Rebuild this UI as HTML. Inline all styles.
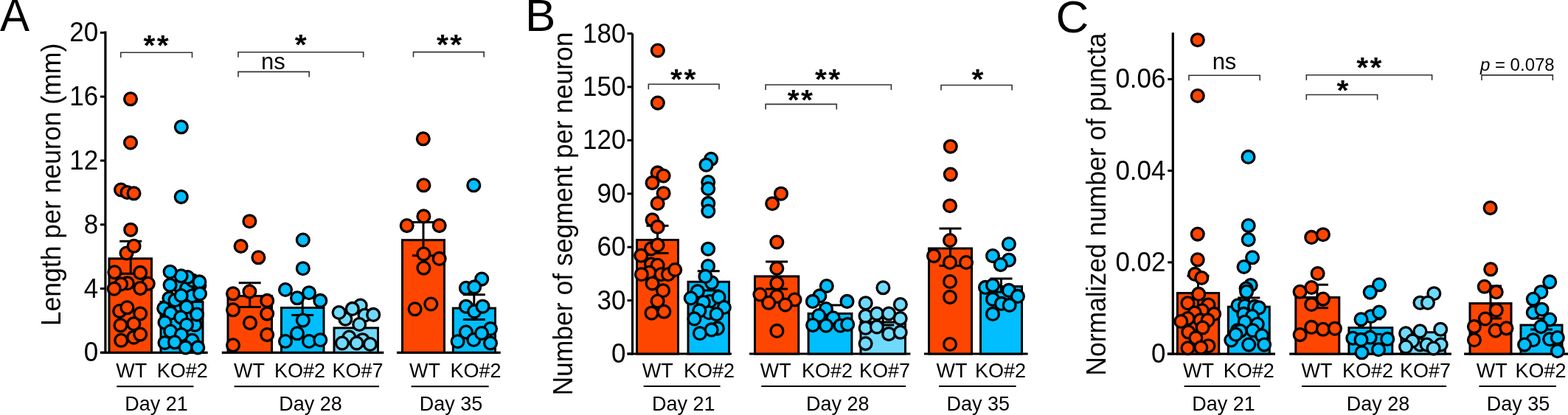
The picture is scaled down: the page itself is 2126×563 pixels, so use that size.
<!DOCTYPE html>
<html><head><meta charset="utf-8"><title>Figure</title><style>html,body{margin:0;padding:0;background:#fff;overflow:hidden}svg{display:block}</style></head><body>
<svg width="2126" height="563" viewBox="0 0 2126 563" font-family='"Liberation Sans", Arial, Helvetica, sans-serif' fill="#000">
<rect width="2126" height="563" fill="#fff"/>
<text transform="translate(0.0 41.7) scale(1 1.04)" font-size="60" text-anchor="start">A</text>
<text transform="translate(712.1 41.9) scale(1 1)" font-size="62" text-anchor="start">B</text>
<text transform="translate(1431.6 43.6) scale(1 1)" font-size="62" text-anchor="start">C</text>
<path d="M142.9 42.4V479.8" stroke="#000" stroke-width="3.2"/>
<path d="M135.9 478.3H142.9" stroke="#000" stroke-width="3"/>
<text transform="translate(133.2 490.3) scale(1 1.045)" font-size="35" text-anchor="end">0</text>
<path d="M135.9 391.5H142.9" stroke="#000" stroke-width="3"/>
<text transform="translate(133.2 403.5) scale(1 1.045)" font-size="35" text-anchor="end">4</text>
<path d="M135.9 304.7H142.9" stroke="#000" stroke-width="3"/>
<text transform="translate(133.2 316.7) scale(1 1.045)" font-size="35" text-anchor="end">8</text>
<path d="M135.9 217.9H142.9" stroke="#000" stroke-width="3"/>
<text transform="translate(133.2 229.9) scale(1 1.045)" font-size="35" text-anchor="end">12</text>
<path d="M135.9 131.1H142.9" stroke="#000" stroke-width="3"/>
<text transform="translate(133.2 143.1) scale(1 1.045)" font-size="35" text-anchor="end">16</text>
<path d="M135.9 44.3H142.9" stroke="#000" stroke-width="3"/>
<text transform="translate(133.2 56.3) scale(1 1.045)" font-size="35" text-anchor="end">20</text>
<text transform="translate(82.3 250.5) rotate(-90) scale(1 1.045)" font-size="35.6" text-anchor="middle">Length per neuron (mm)</text>
<path d="M136.4 478.3H281.7" stroke="#000" stroke-width="3.2"/>
<path d="M300.8 478.3H520.3" stroke="#000" stroke-width="3.2"/>
<path d="M538.0 478.3H678.7" stroke="#000" stroke-width="3.2"/>
<rect x="148.0" y="350.8" width="57.5" height="127.5" fill="#FF4600" stroke="#000" stroke-width="3.0"/>
<rect x="218.0" y="409.5" width="57.0" height="68.8" fill="#00BEFF" stroke="#000" stroke-width="3.0"/>
<rect x="309.0" y="401.6" width="59.5" height="76.7" fill="#FF4600" stroke="#000" stroke-width="3.0"/>
<rect x="381.5" y="417.5" width="57.5" height="60.8" fill="#00BEFF" stroke="#000" stroke-width="3.0"/>
<rect x="453.0" y="444.9" width="59.5" height="33.4" fill="#70DAFC" stroke="#000" stroke-width="3.0"/>
<rect x="545.5" y="325.7" width="57.0" height="152.6" fill="#FF4600" stroke="#000" stroke-width="3.0"/>
<rect x="614.3" y="418.1" width="57.2" height="60.2" fill="#00BEFF" stroke="#000" stroke-width="3.0"/>
<path d="M177.2 327.2V371.2M162.2 327.2H192.2M162.2 371.2H192.2" stroke="#000" stroke-width="3" fill="none"/>
<path d="M246.5 393.0V423.0M231.5 393.0H261.5M231.5 423.0H261.5" stroke="#000" stroke-width="3" fill="none"/>
<path d="M338.7 383.7V416.5M323.7 383.7H353.7M323.7 416.5H353.7" stroke="#000" stroke-width="3" fill="none"/>
<path d="M410.2 404.5V427.5M395.2 404.5H425.2M395.2 427.5H425.2" stroke="#000" stroke-width="3" fill="none"/>
<path d="M574.0 301.6V346.8M559.0 301.6H589.0M559.0 346.8H589.0" stroke="#000" stroke-width="3" fill="none"/>
<path d="M642.8 399.8V433.4M627.8 399.8H657.8M627.8 433.4H657.8" stroke="#000" stroke-width="3" fill="none"/>
<circle cx="177.0" cy="134.3" r="8.4" fill="#FF4600" stroke="#000" stroke-width="3.3"/>
<circle cx="177.0" cy="193.5" r="8.4" fill="#FF4600" stroke="#000" stroke-width="3.3"/>
<circle cx="164.0" cy="257.5" r="8.4" fill="#FF4600" stroke="#000" stroke-width="3.3"/>
<circle cx="172.5" cy="261.0" r="8.4" fill="#FF4600" stroke="#000" stroke-width="3.3"/>
<circle cx="181.5" cy="262.3" r="8.4" fill="#FF4600" stroke="#000" stroke-width="3.3"/>
<circle cx="177.2" cy="311.7" r="8.4" fill="#FF4600" stroke="#000" stroke-width="3.3"/>
<circle cx="171.5" cy="343.5" r="8.4" fill="#FF4600" stroke="#000" stroke-width="3.3"/>
<circle cx="181.6" cy="333.8" r="8.4" fill="#FF4600" stroke="#000" stroke-width="3.3"/>
<circle cx="172.8" cy="384.2" r="8.4" fill="#FF4600" stroke="#000" stroke-width="3.3"/>
<circle cx="164.1" cy="385.5" r="8.4" fill="#FF4600" stroke="#000" stroke-width="3.3"/>
<circle cx="155.4" cy="369.3" r="8.4" fill="#FF4600" stroke="#000" stroke-width="3.3"/>
<circle cx="190.2" cy="369.9" r="8.4" fill="#FF4600" stroke="#000" stroke-width="3.3"/>
<circle cx="154.8" cy="391.7" r="8.4" fill="#FF4600" stroke="#000" stroke-width="3.3"/>
<circle cx="200.8" cy="384.8" r="8.4" fill="#FF4600" stroke="#000" stroke-width="3.3"/>
<circle cx="190.2" cy="391.1" r="8.4" fill="#FF4600" stroke="#000" stroke-width="3.3"/>
<circle cx="162.2" cy="422.1" r="8.4" fill="#FF4600" stroke="#000" stroke-width="3.3"/>
<circle cx="172.4" cy="417.3" r="8.4" fill="#FF4600" stroke="#000" stroke-width="3.3"/>
<circle cx="190.2" cy="425.5" r="8.4" fill="#FF4600" stroke="#000" stroke-width="3.3"/>
<circle cx="163.5" cy="441.3" r="8.4" fill="#FF4600" stroke="#000" stroke-width="3.3"/>
<circle cx="181.3" cy="439.2" r="8.4" fill="#FF4600" stroke="#000" stroke-width="3.3"/>
<circle cx="181.3" cy="457.7" r="8.4" fill="#FF4600" stroke="#000" stroke-width="3.3"/>
<circle cx="190.2" cy="453.6" r="8.4" fill="#FF4600" stroke="#000" stroke-width="3.3"/>
<circle cx="164.2" cy="461.8" r="8.4" fill="#FF4600" stroke="#000" stroke-width="3.3"/>
<circle cx="245.8" cy="172.3" r="8.4" fill="#00BEFF" stroke="#000" stroke-width="3.3"/>
<circle cx="245.7" cy="267.1" r="8.4" fill="#00BEFF" stroke="#000" stroke-width="3.3"/>
<circle cx="242.5" cy="388.0" r="8.4" fill="#00BEFF" stroke="#000" stroke-width="3.3"/>
<circle cx="253.0" cy="391.0" r="8.4" fill="#00BEFF" stroke="#000" stroke-width="3.3"/>
<circle cx="270.4" cy="387.3" r="8.4" fill="#00BEFF" stroke="#000" stroke-width="3.3"/>
<circle cx="264.4" cy="440.7" r="8.4" fill="#00BEFF" stroke="#000" stroke-width="3.3"/>
<circle cx="261.1" cy="380.5" r="8.4" fill="#00BEFF" stroke="#000" stroke-width="3.3"/>
<circle cx="270.4" cy="382.4" r="8.4" fill="#00BEFF" stroke="#000" stroke-width="3.3"/>
<circle cx="254.3" cy="376.1" r="8.4" fill="#00BEFF" stroke="#000" stroke-width="3.3"/>
<circle cx="245.6" cy="374.3" r="8.4" fill="#00BEFF" stroke="#000" stroke-width="3.3"/>
<circle cx="230.6" cy="368.7" r="8.4" fill="#00BEFF" stroke="#000" stroke-width="3.3"/>
<circle cx="230.6" cy="386.7" r="8.4" fill="#00BEFF" stroke="#000" stroke-width="3.3"/>
<circle cx="229.4" cy="404.7" r="8.4" fill="#00BEFF" stroke="#000" stroke-width="3.3"/>
<circle cx="237.5" cy="407.2" r="8.4" fill="#00BEFF" stroke="#000" stroke-width="3.3"/>
<circle cx="260.5" cy="401.6" r="8.4" fill="#00BEFF" stroke="#000" stroke-width="3.3"/>
<circle cx="271.0" cy="398.5" r="8.4" fill="#00BEFF" stroke="#000" stroke-width="3.3"/>
<circle cx="245.6" cy="401.0" r="8.4" fill="#00BEFF" stroke="#000" stroke-width="3.3"/>
<circle cx="222.2" cy="418.3" r="8.4" fill="#00BEFF" stroke="#000" stroke-width="3.3"/>
<circle cx="252.9" cy="416.4" r="8.4" fill="#00BEFF" stroke="#000" stroke-width="3.3"/>
<circle cx="267.0" cy="426.6" r="8.4" fill="#00BEFF" stroke="#000" stroke-width="3.3"/>
<circle cx="231.2" cy="424.7" r="8.4" fill="#00BEFF" stroke="#000" stroke-width="3.3"/>
<circle cx="245.2" cy="430.5" r="8.4" fill="#00BEFF" stroke="#000" stroke-width="3.3"/>
<circle cx="223.5" cy="437.5" r="8.4" fill="#00BEFF" stroke="#000" stroke-width="3.3"/>
<circle cx="252.9" cy="440.7" r="8.4" fill="#00BEFF" stroke="#000" stroke-width="3.3"/>
<circle cx="231.2" cy="449.6" r="8.4" fill="#00BEFF" stroke="#000" stroke-width="3.3"/>
<circle cx="245.9" cy="454.1" r="8.4" fill="#00BEFF" stroke="#000" stroke-width="3.3"/>
<circle cx="223.5" cy="465.0" r="8.4" fill="#00BEFF" stroke="#000" stroke-width="3.3"/>
<circle cx="236.9" cy="464.3" r="8.4" fill="#00BEFF" stroke="#000" stroke-width="3.3"/>
<circle cx="260.6" cy="461.8" r="8.4" fill="#00BEFF" stroke="#000" stroke-width="3.3"/>
<circle cx="251.6" cy="471.4" r="8.4" fill="#00BEFF" stroke="#000" stroke-width="3.3"/>
<circle cx="268.3" cy="471.4" r="8.4" fill="#00BEFF" stroke="#000" stroke-width="3.3"/>
<circle cx="338.4" cy="300.2" r="8.4" fill="#FF4600" stroke="#000" stroke-width="3.3"/>
<circle cx="326.6" cy="334.0" r="8.4" fill="#FF4600" stroke="#000" stroke-width="3.3"/>
<circle cx="350.4" cy="349.3" r="8.4" fill="#FF4600" stroke="#000" stroke-width="3.3"/>
<circle cx="316.0" cy="398.3" r="8.4" fill="#FF4600" stroke="#000" stroke-width="3.3"/>
<circle cx="338.4" cy="395.5" r="8.4" fill="#FF4600" stroke="#000" stroke-width="3.3"/>
<circle cx="362.2" cy="407.9" r="8.4" fill="#FF4600" stroke="#000" stroke-width="3.3"/>
<circle cx="316.0" cy="420.3" r="8.4" fill="#FF4600" stroke="#000" stroke-width="3.3"/>
<circle cx="362.2" cy="425.6" r="8.4" fill="#FF4600" stroke="#000" stroke-width="3.3"/>
<circle cx="339.0" cy="438.1" r="8.4" fill="#FF4600" stroke="#000" stroke-width="3.3"/>
<circle cx="362.2" cy="454.1" r="8.4" fill="#FF4600" stroke="#000" stroke-width="3.3"/>
<circle cx="316.0" cy="468.3" r="8.4" fill="#FF4600" stroke="#000" stroke-width="3.3"/>
<circle cx="410.8" cy="325.5" r="8.4" fill="#00BEFF" stroke="#000" stroke-width="3.3"/>
<circle cx="410.8" cy="364.2" r="8.4" fill="#00BEFF" stroke="#000" stroke-width="3.3"/>
<circle cx="387.0" cy="393.0" r="8.4" fill="#00BEFF" stroke="#000" stroke-width="3.3"/>
<circle cx="403.0" cy="404.3" r="8.4" fill="#00BEFF" stroke="#000" stroke-width="3.3"/>
<circle cx="419.0" cy="397.2" r="8.4" fill="#00BEFF" stroke="#000" stroke-width="3.3"/>
<circle cx="434.3" cy="407.9" r="8.4" fill="#00BEFF" stroke="#000" stroke-width="3.3"/>
<circle cx="410.8" cy="434.5" r="8.4" fill="#00BEFF" stroke="#000" stroke-width="3.3"/>
<circle cx="403.0" cy="452.3" r="8.4" fill="#00BEFF" stroke="#000" stroke-width="3.3"/>
<circle cx="387.0" cy="463.0" r="8.4" fill="#00BEFF" stroke="#000" stroke-width="3.3"/>
<circle cx="419.0" cy="463.0" r="8.4" fill="#00BEFF" stroke="#000" stroke-width="3.3"/>
<circle cx="434.3" cy="461.2" r="8.4" fill="#00BEFF" stroke="#000" stroke-width="3.3"/>
<circle cx="468.3" cy="432.8" r="8.4" fill="#70DAFC" stroke="#000" stroke-width="3.3"/>
<circle cx="488.7" cy="414.6" r="8.4" fill="#70DAFC" stroke="#000" stroke-width="3.3"/>
<circle cx="494.5" cy="427.7" r="8.4" fill="#70DAFC" stroke="#000" stroke-width="3.3"/>
<circle cx="459.6" cy="424.0" r="8.4" fill="#70DAFC" stroke="#000" stroke-width="3.3"/>
<circle cx="477.8" cy="418.9" r="8.4" fill="#70DAFC" stroke="#000" stroke-width="3.3"/>
<circle cx="506.2" cy="426.9" r="8.4" fill="#70DAFC" stroke="#000" stroke-width="3.3"/>
<circle cx="487.2" cy="440.0" r="8.4" fill="#70DAFC" stroke="#000" stroke-width="3.3"/>
<circle cx="491.6" cy="461.2" r="8.4" fill="#70DAFC" stroke="#000" stroke-width="3.3"/>
<circle cx="473.4" cy="457.5" r="8.4" fill="#70DAFC" stroke="#000" stroke-width="3.3"/>
<circle cx="463.9" cy="465.5" r="8.4" fill="#70DAFC" stroke="#000" stroke-width="3.3"/>
<circle cx="483.6" cy="465.5" r="8.4" fill="#70DAFC" stroke="#000" stroke-width="3.3"/>
<circle cx="501.8" cy="467.0" r="8.4" fill="#70DAFC" stroke="#000" stroke-width="3.3"/>
<circle cx="573.8" cy="188.3" r="8.4" fill="#FF4600" stroke="#000" stroke-width="3.3"/>
<circle cx="574.4" cy="251.3" r="8.4" fill="#FF4600" stroke="#000" stroke-width="3.3"/>
<circle cx="574.4" cy="293.4" r="8.4" fill="#FF4600" stroke="#000" stroke-width="3.3"/>
<circle cx="551.7" cy="306.1" r="8.4" fill="#FF4600" stroke="#000" stroke-width="3.3"/>
<circle cx="595.7" cy="306.1" r="8.4" fill="#FF4600" stroke="#000" stroke-width="3.3"/>
<circle cx="574.4" cy="344.6" r="8.4" fill="#FF4600" stroke="#000" stroke-width="3.3"/>
<circle cx="595.7" cy="350.9" r="8.4" fill="#FF4600" stroke="#000" stroke-width="3.3"/>
<circle cx="574.4" cy="363.6" r="8.4" fill="#FF4600" stroke="#000" stroke-width="3.3"/>
<circle cx="562.6" cy="419.3" r="8.4" fill="#FF4600" stroke="#000" stroke-width="3.3"/>
<circle cx="584.3" cy="412.5" r="8.4" fill="#FF4600" stroke="#000" stroke-width="3.3"/>
<circle cx="642.3" cy="251.3" r="8.4" fill="#00BEFF" stroke="#000" stroke-width="3.3"/>
<circle cx="653.2" cy="378.6" r="8.4" fill="#00BEFF" stroke="#000" stroke-width="3.3"/>
<circle cx="631.9" cy="390.8" r="8.4" fill="#00BEFF" stroke="#000" stroke-width="3.3"/>
<circle cx="643.2" cy="389.4" r="8.4" fill="#00BEFF" stroke="#000" stroke-width="3.3"/>
<circle cx="631.9" cy="415.7" r="8.4" fill="#00BEFF" stroke="#000" stroke-width="3.3"/>
<circle cx="643.2" cy="422.5" r="8.4" fill="#00BEFF" stroke="#000" stroke-width="3.3"/>
<circle cx="654.5" cy="415.7" r="8.4" fill="#00BEFF" stroke="#000" stroke-width="3.3"/>
<circle cx="631.9" cy="450.6" r="8.4" fill="#00BEFF" stroke="#000" stroke-width="3.3"/>
<circle cx="665.0" cy="446.0" r="8.4" fill="#00BEFF" stroke="#000" stroke-width="3.3"/>
<circle cx="620.6" cy="463.2" r="8.4" fill="#00BEFF" stroke="#000" stroke-width="3.3"/>
<circle cx="642.3" cy="461.0" r="8.4" fill="#00BEFF" stroke="#000" stroke-width="3.3"/>
<circle cx="665.0" cy="465.5" r="8.4" fill="#00BEFF" stroke="#000" stroke-width="3.3"/>
<circle cx="653.0" cy="452.0" r="8.4" fill="#00BEFF" stroke="#000" stroke-width="3.3"/>
<path d="M163.7 78.2V71.2H260.5V78.2" stroke="#333" stroke-width="1.6" fill="none"/>
<text transform="translate(212.8 74.6) scale(1 0.96)" font-size="41" letter-spacing="2.35" text-anchor="middle" font-weight="bold">**</text>
<path d="M323.0 77.8V70.8H492.7V77.8" stroke="#333" stroke-width="1.6" fill="none"/>
<text transform="translate(408.9 74.4) scale(1 0.96)" font-size="41" letter-spacing="2.35" text-anchor="middle" font-weight="bold">*</text>
<path d="M323.0 104.4V97.4H419.2V104.4" stroke="#333" stroke-width="1.6" fill="none"/>
<text transform="translate(370.3 93.5) scale(1 1)" font-size="31" text-anchor="middle">ns</text>
<path d="M560.5 77.6V70.6H656.2V77.6" stroke="#333" stroke-width="1.6" fill="none"/>
<text transform="translate(610.3 74.4) scale(1 0.96)" font-size="41" letter-spacing="2.35" text-anchor="middle" font-weight="bold">**</text>
<text transform="translate(178.2 511.9) scale(1 1.045)" font-size="27" text-anchor="middle">WT</text>
<text transform="translate(247.2 511.9) scale(1 1.045)" font-size="27" text-anchor="middle">KO#2</text>
<text transform="translate(337.9 511.9) scale(1 1.045)" font-size="27" text-anchor="middle">WT</text>
<text transform="translate(406.5 511.9) scale(1 1.045)" font-size="27" text-anchor="middle">KO#2</text>
<text transform="translate(485.1 511.9) scale(1 1.045)" font-size="27" text-anchor="middle">KO#7</text>
<text transform="translate(576.0 511.9) scale(1 1.045)" font-size="27" text-anchor="middle">WT</text>
<text transform="translate(644.9 511.9) scale(1 1.045)" font-size="27" text-anchor="middle">KO#2</text>
<path d="M158.3 524.3H262.5" stroke="#000" stroke-width="2"/>
<path d="M317.6 524.3H514.0" stroke="#000" stroke-width="2"/>
<path d="M557.6 524.3H662.7" stroke="#000" stroke-width="2"/>
<text transform="translate(212.0 557.2) scale(1 1.045)" font-size="27" text-anchor="middle">Day 21</text>
<text transform="translate(420.9 557.2) scale(1 1.045)" font-size="27" text-anchor="middle">Day 28</text>
<text transform="translate(611.6 557.2) scale(1 1.045)" font-size="27" text-anchor="middle">Day 35</text>
<path d="M857.5 45.5V481.5" stroke="#000" stroke-width="3.2"/>
<path d="M850.5 480.0H857.5" stroke="#000" stroke-width="3"/>
<text transform="translate(848.4 492.0) scale(1 1.045)" font-size="35" text-anchor="end">0</text>
<path d="M850.5 407.6H857.5" stroke="#000" stroke-width="3"/>
<text transform="translate(848.4 419.6) scale(1 1.045)" font-size="35" text-anchor="end">30</text>
<path d="M850.5 335.2H857.5" stroke="#000" stroke-width="3"/>
<text transform="translate(848.4 347.2) scale(1 1.045)" font-size="35" text-anchor="end">60</text>
<path d="M850.5 262.8H857.5" stroke="#000" stroke-width="3"/>
<text transform="translate(848.4 274.8) scale(1 1.045)" font-size="35" text-anchor="end">90</text>
<path d="M850.5 190.3H857.5" stroke="#000" stroke-width="3"/>
<text transform="translate(848.4 202.3) scale(1 1.045)" font-size="35" text-anchor="end">120</text>
<path d="M850.5 117.9H857.5" stroke="#000" stroke-width="3"/>
<text transform="translate(848.4 129.9) scale(1 1.045)" font-size="35" text-anchor="end">150</text>
<path d="M850.5 45.5H857.5" stroke="#000" stroke-width="3"/>
<text transform="translate(848.4 57.5) scale(1 1.045)" font-size="35" text-anchor="end">180</text>
<text transform="translate(776.3 290.0) rotate(-90) scale(1 1.045)" font-size="35.5" text-anchor="middle">Number of segment per neuron</text>
<path d="M850.5 480.0H991.9" stroke="#000" stroke-width="3.2"/>
<path d="M1016.0 480.0H1234.4" stroke="#000" stroke-width="3.2"/>
<path d="M1252.9 480.0H1393.6" stroke="#000" stroke-width="3.2"/>
<rect x="863.5" y="325.5" width="56.0" height="154.5" fill="#FF4600" stroke="#000" stroke-width="3.0"/>
<rect x="933.0" y="382.3" width="55.5" height="97.7" fill="#00BEFF" stroke="#000" stroke-width="3.0"/>
<rect x="1023.5" y="374.9" width="59.3" height="105.1" fill="#FF4600" stroke="#000" stroke-width="3.0"/>
<rect x="1096.1" y="425.4" width="58.8" height="54.6" fill="#00BEFF" stroke="#000" stroke-width="3.0"/>
<rect x="1167.0" y="437.0" width="60.5" height="43.0" fill="#70DAFC" stroke="#000" stroke-width="3.0"/>
<rect x="1259.5" y="337.0" width="58.0" height="143.0" fill="#FF4600" stroke="#000" stroke-width="3.0"/>
<rect x="1329.5" y="388.6" width="56.0" height="91.4" fill="#00BEFF" stroke="#000" stroke-width="3.0"/>
<path d="M891.5 306.3V343.5M876.5 306.3H906.5M876.5 343.5H906.5" stroke="#000" stroke-width="3" fill="none"/>
<path d="M960.7 367.7V393.9M945.7 367.7H975.7M945.7 393.9H975.7" stroke="#000" stroke-width="3" fill="none"/>
<path d="M1053.1 354.9V391.9M1038.1 354.9H1068.1M1038.1 391.9H1068.1" stroke="#000" stroke-width="3" fill="none"/>
<path d="M1125.5 414.0V433.8M1110.5 414.0H1140.5M1110.5 433.8H1140.5" stroke="#000" stroke-width="3" fill="none"/>
<path d="M1197.2 430.0V441.0M1182.2 430.0H1212.2M1182.2 441.0H1212.2" stroke="#000" stroke-width="3" fill="none"/>
<path d="M1288.5 310.0V360.5M1273.5 310.0H1303.5M1273.5 360.5H1303.5" stroke="#000" stroke-width="3" fill="none"/>
<path d="M1357.5 377.9V396.3M1342.5 377.9H1372.5M1342.5 396.3H1372.5" stroke="#000" stroke-width="3" fill="none"/>
<circle cx="891.8" cy="68.5" r="8.4" fill="#FF4600" stroke="#000" stroke-width="3.3"/>
<circle cx="891.8" cy="139.6" r="8.4" fill="#FF4600" stroke="#000" stroke-width="3.3"/>
<circle cx="891.6" cy="234.4" r="8.4" fill="#FF4600" stroke="#000" stroke-width="3.3"/>
<circle cx="899.6" cy="238.5" r="8.4" fill="#FF4600" stroke="#000" stroke-width="3.3"/>
<circle cx="884.5" cy="248.1" r="8.4" fill="#FF4600" stroke="#000" stroke-width="3.3"/>
<circle cx="899.6" cy="262.2" r="8.4" fill="#FF4600" stroke="#000" stroke-width="3.3"/>
<circle cx="891.6" cy="276.0" r="8.4" fill="#FF4600" stroke="#000" stroke-width="3.3"/>
<circle cx="884.5" cy="298.3" r="8.4" fill="#FF4600" stroke="#000" stroke-width="3.3"/>
<circle cx="891.6" cy="307.9" r="8.4" fill="#FF4600" stroke="#000" stroke-width="3.3"/>
<circle cx="882.9" cy="337.4" r="8.4" fill="#FF4600" stroke="#000" stroke-width="3.3"/>
<circle cx="891.6" cy="332.4" r="8.4" fill="#FF4600" stroke="#000" stroke-width="3.3"/>
<circle cx="869.2" cy="346.7" r="8.4" fill="#FF4600" stroke="#000" stroke-width="3.3"/>
<circle cx="882.9" cy="358.5" r="8.4" fill="#FF4600" stroke="#000" stroke-width="3.3"/>
<circle cx="891.6" cy="359.8" r="8.4" fill="#FF4600" stroke="#000" stroke-width="3.3"/>
<circle cx="880.4" cy="369.7" r="8.4" fill="#FF4600" stroke="#000" stroke-width="3.3"/>
<circle cx="896.5" cy="372.2" r="8.4" fill="#FF4600" stroke="#000" stroke-width="3.3"/>
<circle cx="869.8" cy="372.2" r="8.4" fill="#FF4600" stroke="#000" stroke-width="3.3"/>
<circle cx="905.9" cy="372.2" r="8.4" fill="#FF4600" stroke="#000" stroke-width="3.3"/>
<circle cx="915.2" cy="366.0" r="8.4" fill="#FF4600" stroke="#000" stroke-width="3.3"/>
<circle cx="884.5" cy="384.5" r="8.4" fill="#FF4600" stroke="#000" stroke-width="3.3"/>
<circle cx="899.0" cy="394.2" r="8.4" fill="#FF4600" stroke="#000" stroke-width="3.3"/>
<circle cx="891.6" cy="408.5" r="8.4" fill="#FF4600" stroke="#000" stroke-width="3.3"/>
<circle cx="883.5" cy="424.7" r="8.4" fill="#FF4600" stroke="#000" stroke-width="3.3"/>
<circle cx="900.3" cy="422.8" r="8.4" fill="#FF4600" stroke="#000" stroke-width="3.3"/>
<circle cx="964.1" cy="215.8" r="8.4" fill="#00BEFF" stroke="#000" stroke-width="3.3"/>
<circle cx="957.5" cy="223.7" r="8.4" fill="#00BEFF" stroke="#000" stroke-width="3.3"/>
<circle cx="960.2" cy="247.1" r="8.4" fill="#00BEFF" stroke="#000" stroke-width="3.3"/>
<circle cx="960.2" cy="256.0" r="8.4" fill="#00BEFF" stroke="#000" stroke-width="3.3"/>
<circle cx="960.3" cy="275.9" r="8.4" fill="#00BEFF" stroke="#000" stroke-width="3.3"/>
<circle cx="960.3" cy="286.5" r="8.4" fill="#00BEFF" stroke="#000" stroke-width="3.3"/>
<circle cx="960.1" cy="337.7" r="8.4" fill="#00BEFF" stroke="#000" stroke-width="3.3"/>
<circle cx="960.1" cy="361.0" r="8.4" fill="#00BEFF" stroke="#000" stroke-width="3.3"/>
<circle cx="965.0" cy="383.4" r="8.4" fill="#00BEFF" stroke="#000" stroke-width="3.3"/>
<circle cx="956.4" cy="374.9" r="8.4" fill="#00BEFF" stroke="#000" stroke-width="3.3"/>
<circle cx="945.8" cy="395.2" r="8.4" fill="#00BEFF" stroke="#000" stroke-width="3.3"/>
<circle cx="936.7" cy="404.5" r="8.4" fill="#00BEFF" stroke="#000" stroke-width="3.3"/>
<circle cx="962.3" cy="409.0" r="8.4" fill="#00BEFF" stroke="#000" stroke-width="3.3"/>
<circle cx="974.5" cy="403.0" r="8.4" fill="#00BEFF" stroke="#000" stroke-width="3.3"/>
<circle cx="953.8" cy="410.0" r="8.4" fill="#00BEFF" stroke="#000" stroke-width="3.3"/>
<circle cx="981.8" cy="417.0" r="8.4" fill="#00BEFF" stroke="#000" stroke-width="3.3"/>
<circle cx="961.3" cy="424.2" r="8.4" fill="#00BEFF" stroke="#000" stroke-width="3.3"/>
<circle cx="948.3" cy="421.4" r="8.4" fill="#00BEFF" stroke="#000" stroke-width="3.3"/>
<circle cx="971.5" cy="426.2" r="8.4" fill="#00BEFF" stroke="#000" stroke-width="3.3"/>
<circle cx="941.4" cy="432.4" r="8.4" fill="#00BEFF" stroke="#000" stroke-width="3.3"/>
<circle cx="972.9" cy="445.4" r="8.4" fill="#00BEFF" stroke="#000" stroke-width="3.3"/>
<circle cx="964.7" cy="447.4" r="8.4" fill="#00BEFF" stroke="#000" stroke-width="3.3"/>
<circle cx="948.9" cy="452.2" r="8.4" fill="#00BEFF" stroke="#000" stroke-width="3.3"/>
<circle cx="1059.0" cy="262.7" r="8.4" fill="#FF4600" stroke="#000" stroke-width="3.3"/>
<circle cx="1047.2" cy="276.2" r="8.4" fill="#FF4600" stroke="#000" stroke-width="3.3"/>
<circle cx="1053.3" cy="328.5" r="8.4" fill="#FF4600" stroke="#000" stroke-width="3.3"/>
<circle cx="1053.3" cy="364.0" r="8.4" fill="#FF4600" stroke="#000" stroke-width="3.3"/>
<circle cx="1053.3" cy="384.2" r="8.4" fill="#FF4600" stroke="#000" stroke-width="3.3"/>
<circle cx="1030.4" cy="399.5" r="8.4" fill="#FF4600" stroke="#000" stroke-width="3.3"/>
<circle cx="1053.3" cy="402.0" r="8.4" fill="#FF4600" stroke="#000" stroke-width="3.3"/>
<circle cx="1077.5" cy="406.5" r="8.4" fill="#FF4600" stroke="#000" stroke-width="3.3"/>
<circle cx="1042.2" cy="410.8" r="8.4" fill="#FF4600" stroke="#000" stroke-width="3.3"/>
<circle cx="1064.8" cy="413.5" r="8.4" fill="#FF4600" stroke="#000" stroke-width="3.3"/>
<circle cx="1053.4" cy="448.9" r="8.4" fill="#FF4600" stroke="#000" stroke-width="3.3"/>
<circle cx="1120.8" cy="388.0" r="8.4" fill="#00BEFF" stroke="#000" stroke-width="3.3"/>
<circle cx="1111.4" cy="401.4" r="8.4" fill="#00BEFF" stroke="#000" stroke-width="3.3"/>
<circle cx="1101.9" cy="408.9" r="8.4" fill="#00BEFF" stroke="#000" stroke-width="3.3"/>
<circle cx="1148.5" cy="408.9" r="8.4" fill="#00BEFF" stroke="#000" stroke-width="3.3"/>
<circle cx="1120.0" cy="419.0" r="8.4" fill="#00BEFF" stroke="#000" stroke-width="3.3"/>
<circle cx="1110.2" cy="428.1" r="8.4" fill="#00BEFF" stroke="#000" stroke-width="3.3"/>
<circle cx="1129.7" cy="431.3" r="8.4" fill="#00BEFF" stroke="#000" stroke-width="3.3"/>
<circle cx="1102.1" cy="441.1" r="8.4" fill="#00BEFF" stroke="#000" stroke-width="3.3"/>
<circle cx="1120.0" cy="441.7" r="8.4" fill="#00BEFF" stroke="#000" stroke-width="3.3"/>
<circle cx="1139.5" cy="441.7" r="8.4" fill="#00BEFF" stroke="#000" stroke-width="3.3"/>
<circle cx="1149.2" cy="440.1" r="8.4" fill="#00BEFF" stroke="#000" stroke-width="3.3"/>
<circle cx="1197.4" cy="390.3" r="8.4" fill="#70DAFC" stroke="#000" stroke-width="3.3"/>
<circle cx="1173.7" cy="411.2" r="8.4" fill="#70DAFC" stroke="#000" stroke-width="3.3"/>
<circle cx="1220.8" cy="413.0" r="8.4" fill="#70DAFC" stroke="#000" stroke-width="3.3"/>
<circle cx="1173.6" cy="428.7" r="8.4" fill="#70DAFC" stroke="#000" stroke-width="3.3"/>
<circle cx="1188.9" cy="425.5" r="8.4" fill="#70DAFC" stroke="#000" stroke-width="3.3"/>
<circle cx="1205.1" cy="425.5" r="8.4" fill="#70DAFC" stroke="#000" stroke-width="3.3"/>
<circle cx="1220.7" cy="432.0" r="8.4" fill="#70DAFC" stroke="#000" stroke-width="3.3"/>
<circle cx="1173.6" cy="445.0" r="8.4" fill="#70DAFC" stroke="#000" stroke-width="3.3"/>
<circle cx="1188.9" cy="443.4" r="8.4" fill="#70DAFC" stroke="#000" stroke-width="3.3"/>
<circle cx="1205.1" cy="453.1" r="8.4" fill="#70DAFC" stroke="#000" stroke-width="3.3"/>
<circle cx="1220.7" cy="450.8" r="8.4" fill="#70DAFC" stroke="#000" stroke-width="3.3"/>
<circle cx="1173.6" cy="466.1" r="8.4" fill="#70DAFC" stroke="#000" stroke-width="3.3"/>
<circle cx="1288.8" cy="198.7" r="8.4" fill="#FF4600" stroke="#000" stroke-width="3.3"/>
<circle cx="1288.8" cy="236.6" r="8.4" fill="#FF4600" stroke="#000" stroke-width="3.3"/>
<circle cx="1288.0" cy="279.2" r="8.4" fill="#FF4600" stroke="#000" stroke-width="3.3"/>
<circle cx="1288.0" cy="326.0" r="8.4" fill="#FF4600" stroke="#000" stroke-width="3.3"/>
<circle cx="1266.0" cy="347.1" r="8.4" fill="#FF4600" stroke="#000" stroke-width="3.3"/>
<circle cx="1288.0" cy="356.0" r="8.4" fill="#FF4600" stroke="#000" stroke-width="3.3"/>
<circle cx="1310.0" cy="356.0" r="8.4" fill="#FF4600" stroke="#000" stroke-width="3.3"/>
<circle cx="1288.0" cy="382.0" r="8.4" fill="#FF4600" stroke="#000" stroke-width="3.3"/>
<circle cx="1288.0" cy="403.1" r="8.4" fill="#FF4600" stroke="#000" stroke-width="3.3"/>
<circle cx="1288.0" cy="467.0" r="8.4" fill="#FF4600" stroke="#000" stroke-width="3.3"/>
<circle cx="1367.9" cy="331.1" r="8.4" fill="#00BEFF" stroke="#000" stroke-width="3.3"/>
<circle cx="1346.0" cy="347.1" r="8.4" fill="#00BEFF" stroke="#000" stroke-width="3.3"/>
<circle cx="1367.9" cy="352.7" r="8.4" fill="#00BEFF" stroke="#000" stroke-width="3.3"/>
<circle cx="1356.7" cy="359.1" r="8.4" fill="#00BEFF" stroke="#000" stroke-width="3.3"/>
<circle cx="1336.0" cy="389.9" r="8.4" fill="#00BEFF" stroke="#000" stroke-width="3.3"/>
<circle cx="1346.0" cy="387.1" r="8.4" fill="#00BEFF" stroke="#000" stroke-width="3.3"/>
<circle cx="1367.9" cy="393.9" r="8.4" fill="#00BEFF" stroke="#000" stroke-width="3.3"/>
<circle cx="1379.9" cy="401.9" r="8.4" fill="#00BEFF" stroke="#000" stroke-width="3.3"/>
<circle cx="1346.0" cy="405.9" r="8.4" fill="#00BEFF" stroke="#000" stroke-width="3.3"/>
<circle cx="1357.9" cy="411.9" r="8.4" fill="#00BEFF" stroke="#000" stroke-width="3.3"/>
<circle cx="1368.7" cy="413.9" r="8.4" fill="#00BEFF" stroke="#000" stroke-width="3.3"/>
<circle cx="1346.0" cy="425.9" r="8.4" fill="#00BEFF" stroke="#000" stroke-width="3.3"/>
<path d="M879.3 121.2V114.2H975.0V121.2" stroke="#333" stroke-width="1.6" fill="none"/>
<text transform="translate(927.4 121.0) scale(1 0.96)" font-size="41" letter-spacing="2.35" text-anchor="middle" font-weight="bold">**</text>
<path d="M1038.1 122.0V115.0H1208.4V122.0" stroke="#333" stroke-width="1.6" fill="none"/>
<text transform="translate(1123.2 121.0) scale(1 0.96)" font-size="41" letter-spacing="2.35" text-anchor="middle" font-weight="bold">**</text>
<path d="M1038.1 148.4V141.4H1134.3V148.4" stroke="#333" stroke-width="1.6" fill="none"/>
<text transform="translate(1086.0 149.3) scale(1 0.96)" font-size="41" letter-spacing="2.35" text-anchor="middle" font-weight="bold">**</text>
<path d="M1276.0 122.5V115.5H1372.1V122.5" stroke="#333" stroke-width="1.6" fill="none"/>
<text transform="translate(1326.6 121.1) scale(1 0.96)" font-size="41" letter-spacing="2.35" text-anchor="middle" font-weight="bold">*</text>
<text transform="translate(891.8 511.9) scale(1 1.045)" font-size="27" text-anchor="middle">WT</text>
<text transform="translate(961.5 511.9) scale(1 1.045)" font-size="27" text-anchor="middle">KO#2</text>
<text transform="translate(1051.7 511.9) scale(1 1.045)" font-size="27" text-anchor="middle">WT</text>
<text transform="translate(1121.5 511.9) scale(1 1.045)" font-size="27" text-anchor="middle">KO#2</text>
<text transform="translate(1199.5 511.9) scale(1 1.045)" font-size="27" text-anchor="middle">KO#7</text>
<text transform="translate(1290.4 511.9) scale(1 1.045)" font-size="27" text-anchor="middle">WT</text>
<text transform="translate(1356.5 511.9) scale(1 1.045)" font-size="27" text-anchor="middle">KO#2</text>
<path d="M872.6 524.0H976.6" stroke="#000" stroke-width="2"/>
<path d="M1032.2 524.0H1228.2" stroke="#000" stroke-width="2"/>
<path d="M1273.0 524.0H1377.6" stroke="#000" stroke-width="2"/>
<text transform="translate(926.8 557.2) scale(1 1.045)" font-size="27" text-anchor="middle">Day 21</text>
<text transform="translate(1135.8 557.2) scale(1 1.045)" font-size="27" text-anchor="middle">Day 28</text>
<text transform="translate(1326.3 557.2) scale(1 1.045)" font-size="27" text-anchor="middle">Day 35</text>
<path d="M1590.3 44.3V481.6" stroke="#000" stroke-width="3.2"/>
<path d="M1583.3 480.1H1590.3" stroke="#000" stroke-width="3"/>
<text transform="translate(1580.5 492.1) scale(1 1.045)" font-size="35" text-anchor="end">0</text>
<path d="M1583.3 355.9H1590.3" stroke="#000" stroke-width="3"/>
<text transform="translate(1580.5 367.9) scale(1 1.045)" font-size="35" text-anchor="end">0.02</text>
<path d="M1583.3 231.6H1590.3" stroke="#000" stroke-width="3"/>
<text transform="translate(1580.5 243.6) scale(1 1.045)" font-size="35" text-anchor="end">0.04</text>
<path d="M1583.3 107.4H1590.3" stroke="#000" stroke-width="3"/>
<text transform="translate(1580.5 119.4) scale(1 1.045)" font-size="35" text-anchor="end">0.06</text>
<text transform="translate(1499.2 277.2) rotate(-90) scale(1 1.045)" font-size="35.45" text-anchor="middle">Normalized number of puncta</text>
<path d="M1582.8 480.1H1729.0" stroke="#000" stroke-width="3.2"/>
<path d="M1748.2 480.1H1967.9" stroke="#000" stroke-width="3.2"/>
<path d="M1985.1 480.1H2126.0" stroke="#000" stroke-width="3.2"/>
<rect x="1596.4" y="397.6" width="56.3" height="82.5" fill="#FF4600" stroke="#000" stroke-width="3.0"/>
<rect x="1665.3" y="416.2" width="56.0" height="63.9" fill="#00BEFF" stroke="#000" stroke-width="3.0"/>
<rect x="1756.8" y="403.5" width="59.0" height="76.6" fill="#FF4600" stroke="#000" stroke-width="3.0"/>
<rect x="1828.9" y="444.6" width="58.9" height="35.5" fill="#00BEFF" stroke="#000" stroke-width="3.0"/>
<rect x="1899.9" y="450.8" width="59.6" height="29.3" fill="#70DAFC" stroke="#000" stroke-width="3.0"/>
<rect x="1993.0" y="411.6" width="56.0" height="68.5" fill="#FF4600" stroke="#000" stroke-width="3.0"/>
<rect x="2062.0" y="441.0" width="56.0" height="39.1" fill="#00BEFF" stroke="#000" stroke-width="3.0"/>
<path d="M1624.5 374.3V417.9M1609.5 374.3H1639.5M1609.5 417.9H1639.5" stroke="#000" stroke-width="3" fill="none"/>
<path d="M1693.3 403.9V425.5M1678.3 403.9H1708.3M1678.3 425.5H1708.3" stroke="#000" stroke-width="3" fill="none"/>
<path d="M1785.9 386.3V417.7M1770.9 386.3H1800.9M1770.9 417.7H1800.9" stroke="#000" stroke-width="3" fill="none"/>
<path d="M1858.3 433.0V453.2M1843.3 433.0H1873.3M1843.3 453.2H1873.3" stroke="#000" stroke-width="3" fill="none"/>
<path d="M2021.0 388.0V432.0M2006.0 388.0H2036.0M2006.0 432.0H2036.0" stroke="#000" stroke-width="3" fill="none"/>
<path d="M2090.0 432.0V447.0M2075.0 432.0H2105.0M2075.0 447.0H2105.0" stroke="#000" stroke-width="3" fill="none"/>
<circle cx="1623.8" cy="54.2" r="8.4" fill="#FF4600" stroke="#000" stroke-width="3.3"/>
<circle cx="1623.8" cy="130.0" r="8.4" fill="#FF4600" stroke="#000" stroke-width="3.3"/>
<circle cx="1623.8" cy="317.6" r="8.4" fill="#FF4600" stroke="#000" stroke-width="3.3"/>
<circle cx="1623.8" cy="352.3" r="8.4" fill="#FF4600" stroke="#000" stroke-width="3.3"/>
<circle cx="1620.2" cy="371.9" r="8.4" fill="#FF4600" stroke="#000" stroke-width="3.3"/>
<circle cx="1629.3" cy="377.0" r="8.4" fill="#FF4600" stroke="#000" stroke-width="3.3"/>
<circle cx="1625.2" cy="398.9" r="8.4" fill="#FF4600" stroke="#000" stroke-width="3.3"/>
<circle cx="1638.4" cy="413.5" r="8.4" fill="#FF4600" stroke="#000" stroke-width="3.3"/>
<circle cx="1610.5" cy="411.2" r="8.4" fill="#FF4600" stroke="#000" stroke-width="3.3"/>
<circle cx="1629.9" cy="421.3" r="8.4" fill="#FF4600" stroke="#000" stroke-width="3.3"/>
<circle cx="1619.8" cy="424.4" r="8.4" fill="#FF4600" stroke="#000" stroke-width="3.3"/>
<circle cx="1646.1" cy="425.9" r="8.4" fill="#FF4600" stroke="#000" stroke-width="3.3"/>
<circle cx="1610.5" cy="432.1" r="8.4" fill="#FF4600" stroke="#000" stroke-width="3.3"/>
<circle cx="1627.5" cy="434.4" r="8.4" fill="#FF4600" stroke="#000" stroke-width="3.3"/>
<circle cx="1601.3" cy="436.0" r="8.4" fill="#FF4600" stroke="#000" stroke-width="3.3"/>
<circle cx="1637.6" cy="434.4" r="8.4" fill="#FF4600" stroke="#000" stroke-width="3.3"/>
<circle cx="1630.6" cy="444.5" r="8.4" fill="#FF4600" stroke="#000" stroke-width="3.3"/>
<circle cx="1611.3" cy="450.6" r="8.4" fill="#FF4600" stroke="#000" stroke-width="3.3"/>
<circle cx="1621.4" cy="458.4" r="8.4" fill="#FF4600" stroke="#000" stroke-width="3.3"/>
<circle cx="1638.4" cy="469.2" r="8.4" fill="#FF4600" stroke="#000" stroke-width="3.3"/>
<circle cx="1610.5" cy="472.3" r="8.4" fill="#FF4600" stroke="#000" stroke-width="3.3"/>
<circle cx="1628.3" cy="471.5" r="8.4" fill="#FF4600" stroke="#000" stroke-width="3.3"/>
<circle cx="1692.5" cy="212.9" r="8.4" fill="#00BEFF" stroke="#000" stroke-width="3.3"/>
<circle cx="1692.7" cy="306.1" r="8.4" fill="#00BEFF" stroke="#000" stroke-width="3.3"/>
<circle cx="1692.7" cy="325.1" r="8.4" fill="#00BEFF" stroke="#000" stroke-width="3.3"/>
<circle cx="1698.1" cy="349.3" r="8.4" fill="#00BEFF" stroke="#000" stroke-width="3.3"/>
<circle cx="1686.6" cy="362.0" r="8.4" fill="#00BEFF" stroke="#000" stroke-width="3.3"/>
<circle cx="1695.7" cy="387.0" r="8.4" fill="#00BEFF" stroke="#000" stroke-width="3.3"/>
<circle cx="1689.6" cy="391.5" r="8.4" fill="#00BEFF" stroke="#000" stroke-width="3.3"/>
<circle cx="1690.1" cy="395.8" r="8.4" fill="#00BEFF" stroke="#000" stroke-width="3.3"/>
<circle cx="1678.5" cy="414.3" r="8.4" fill="#00BEFF" stroke="#000" stroke-width="3.3"/>
<circle cx="1687.8" cy="415.1" r="8.4" fill="#00BEFF" stroke="#000" stroke-width="3.3"/>
<circle cx="1701.0" cy="415.9" r="8.4" fill="#00BEFF" stroke="#000" stroke-width="3.3"/>
<circle cx="1707.0" cy="417.4" r="8.4" fill="#00BEFF" stroke="#000" stroke-width="3.3"/>
<circle cx="1686.3" cy="425.9" r="8.4" fill="#00BEFF" stroke="#000" stroke-width="3.3"/>
<circle cx="1697.9" cy="429.0" r="8.4" fill="#00BEFF" stroke="#000" stroke-width="3.3"/>
<circle cx="1687.8" cy="436.7" r="8.4" fill="#00BEFF" stroke="#000" stroke-width="3.3"/>
<circle cx="1704.8" cy="439.8" r="8.4" fill="#00BEFF" stroke="#000" stroke-width="3.3"/>
<circle cx="1677.8" cy="448.3" r="8.4" fill="#00BEFF" stroke="#000" stroke-width="3.3"/>
<circle cx="1681.6" cy="449.1" r="8.4" fill="#00BEFF" stroke="#000" stroke-width="3.3"/>
<circle cx="1698.6" cy="448.3" r="8.4" fill="#00BEFF" stroke="#000" stroke-width="3.3"/>
<circle cx="1711.0" cy="455.3" r="8.4" fill="#00BEFF" stroke="#000" stroke-width="3.3"/>
<circle cx="1669.3" cy="461.5" r="8.4" fill="#00BEFF" stroke="#000" stroke-width="3.3"/>
<circle cx="1693.2" cy="467.6" r="8.4" fill="#00BEFF" stroke="#000" stroke-width="3.3"/>
<circle cx="1714.1" cy="467.6" r="8.4" fill="#00BEFF" stroke="#000" stroke-width="3.3"/>
<circle cx="1675.5" cy="453.7" r="8.4" fill="#00BEFF" stroke="#000" stroke-width="3.3"/>
<circle cx="1778.2" cy="321.9" r="8.4" fill="#FF4600" stroke="#000" stroke-width="3.3"/>
<circle cx="1793.9" cy="318.2" r="8.4" fill="#FF4600" stroke="#000" stroke-width="3.3"/>
<circle cx="1786.6" cy="371.0" r="8.4" fill="#FF4600" stroke="#000" stroke-width="3.3"/>
<circle cx="1762.6" cy="395.8" r="8.4" fill="#FF4600" stroke="#000" stroke-width="3.3"/>
<circle cx="1778.2" cy="390.0" r="8.4" fill="#FF4600" stroke="#000" stroke-width="3.3"/>
<circle cx="1793.9" cy="405.6" r="8.4" fill="#FF4600" stroke="#000" stroke-width="3.3"/>
<circle cx="1778.2" cy="412.9" r="8.4" fill="#FF4600" stroke="#000" stroke-width="3.3"/>
<circle cx="1762.6" cy="454.1" r="8.4" fill="#FF4600" stroke="#000" stroke-width="3.3"/>
<circle cx="1778.2" cy="443.9" r="8.4" fill="#FF4600" stroke="#000" stroke-width="3.3"/>
<circle cx="1793.9" cy="446.8" r="8.4" fill="#FF4600" stroke="#000" stroke-width="3.3"/>
<circle cx="1809.9" cy="445.7" r="8.4" fill="#FF4600" stroke="#000" stroke-width="3.3"/>
<circle cx="1870.0" cy="386.3" r="8.4" fill="#00BEFF" stroke="#000" stroke-width="3.3"/>
<circle cx="1857.7" cy="396.6" r="8.4" fill="#00BEFF" stroke="#000" stroke-width="3.3"/>
<circle cx="1858.8" cy="429.2" r="8.4" fill="#00BEFF" stroke="#000" stroke-width="3.3"/>
<circle cx="1870.0" cy="423.5" r="8.4" fill="#00BEFF" stroke="#000" stroke-width="3.3"/>
<circle cx="1845.5" cy="433.3" r="8.4" fill="#00BEFF" stroke="#000" stroke-width="3.3"/>
<circle cx="1857.7" cy="457.8" r="8.4" fill="#00BEFF" stroke="#000" stroke-width="3.3"/>
<circle cx="1834.3" cy="458.8" r="8.4" fill="#00BEFF" stroke="#000" stroke-width="3.3"/>
<circle cx="1845.5" cy="460.9" r="8.4" fill="#00BEFF" stroke="#000" stroke-width="3.3"/>
<circle cx="1881.2" cy="459.9" r="8.4" fill="#00BEFF" stroke="#000" stroke-width="3.3"/>
<circle cx="1846.5" cy="478.3" r="8.4" fill="#00BEFF" stroke="#000" stroke-width="3.3"/>
<circle cx="1869.0" cy="474.2" r="8.4" fill="#00BEFF" stroke="#000" stroke-width="3.3"/>
<circle cx="1944.3" cy="398.2" r="8.4" fill="#70DAFC" stroke="#000" stroke-width="3.3"/>
<circle cx="1925.5" cy="410.7" r="8.4" fill="#70DAFC" stroke="#000" stroke-width="3.3"/>
<circle cx="1935.9" cy="410.7" r="8.4" fill="#70DAFC" stroke="#000" stroke-width="3.3"/>
<circle cx="1925.4" cy="467.5" r="8.4" fill="#70DAFC" stroke="#000" stroke-width="3.3"/>
<circle cx="1953.7" cy="467.5" r="8.4" fill="#70DAFC" stroke="#000" stroke-width="3.3"/>
<circle cx="1934.5" cy="467.5" r="8.4" fill="#70DAFC" stroke="#000" stroke-width="3.3"/>
<circle cx="1906.1" cy="452.3" r="8.4" fill="#70DAFC" stroke="#000" stroke-width="3.3"/>
<circle cx="1925.4" cy="449.3" r="8.4" fill="#70DAFC" stroke="#000" stroke-width="3.3"/>
<circle cx="1953.2" cy="446.8" r="8.4" fill="#70DAFC" stroke="#000" stroke-width="3.3"/>
<circle cx="1915.2" cy="462.4" r="8.4" fill="#70DAFC" stroke="#000" stroke-width="3.3"/>
<circle cx="1906.1" cy="470.5" r="8.4" fill="#70DAFC" stroke="#000" stroke-width="3.3"/>
<circle cx="1943.6" cy="472.6" r="8.4" fill="#70DAFC" stroke="#000" stroke-width="3.3"/>
<circle cx="2020.6" cy="282.1" r="8.4" fill="#FF4600" stroke="#000" stroke-width="3.3"/>
<circle cx="2021.2" cy="365.3" r="8.4" fill="#FF4600" stroke="#000" stroke-width="3.3"/>
<circle cx="2012.7" cy="388.8" r="8.4" fill="#FF4600" stroke="#000" stroke-width="3.3"/>
<circle cx="2028.7" cy="396.2" r="8.4" fill="#FF4600" stroke="#000" stroke-width="3.3"/>
<circle cx="2028.7" cy="420.7" r="8.4" fill="#FF4600" stroke="#000" stroke-width="3.3"/>
<circle cx="2013.8" cy="432.5" r="8.4" fill="#FF4600" stroke="#000" stroke-width="3.3"/>
<circle cx="1998.9" cy="443.1" r="8.4" fill="#FF4600" stroke="#000" stroke-width="3.3"/>
<circle cx="2027.6" cy="448.4" r="8.4" fill="#FF4600" stroke="#000" stroke-width="3.3"/>
<circle cx="2042.5" cy="445.3" r="8.4" fill="#FF4600" stroke="#000" stroke-width="3.3"/>
<circle cx="1998.9" cy="461.2" r="8.4" fill="#FF4600" stroke="#000" stroke-width="3.3"/>
<circle cx="2101.2" cy="382.4" r="8.4" fill="#00BEFF" stroke="#000" stroke-width="3.3"/>
<circle cx="2089.4" cy="396.2" r="8.4" fill="#00BEFF" stroke="#000" stroke-width="3.3"/>
<circle cx="2078.8" cy="405.8" r="8.4" fill="#00BEFF" stroke="#000" stroke-width="3.3"/>
<circle cx="2078.8" cy="423.9" r="8.4" fill="#00BEFF" stroke="#000" stroke-width="3.3"/>
<circle cx="2090.5" cy="419.7" r="8.4" fill="#00BEFF" stroke="#000" stroke-width="3.3"/>
<circle cx="2101.2" cy="433.5" r="8.4" fill="#00BEFF" stroke="#000" stroke-width="3.3"/>
<circle cx="2089.4" cy="443.1" r="8.4" fill="#00BEFF" stroke="#000" stroke-width="3.3"/>
<circle cx="2078.8" cy="461.2" r="8.4" fill="#00BEFF" stroke="#000" stroke-width="3.3"/>
<circle cx="2067.1" cy="467.6" r="8.4" fill="#00BEFF" stroke="#000" stroke-width="3.3"/>
<circle cx="2101.2" cy="460.2" r="8.4" fill="#00BEFF" stroke="#000" stroke-width="3.3"/>
<circle cx="2111.8" cy="458.0" r="8.4" fill="#00BEFF" stroke="#000" stroke-width="3.3"/>
<circle cx="2111.8" cy="476.2" r="8.4" fill="#00BEFF" stroke="#000" stroke-width="3.3"/>
<path d="M1612.0 109.3V102.3H1708.2V109.3" stroke="#333" stroke-width="1.6" fill="none"/>
<text transform="translate(1660.0 93.5) scale(1 1)" font-size="31" text-anchor="middle">ns</text>
<path d="M1771.3 108.8V101.8H1941.6V108.8" stroke="#333" stroke-width="1.6" fill="none"/>
<text transform="translate(1857.5 105.3) scale(1 0.96)" font-size="41" letter-spacing="2.35" text-anchor="middle" font-weight="bold">**</text>
<path d="M1771.3 135.5V128.5H1867.6V135.5" stroke="#333" stroke-width="1.6" fill="none"/>
<text transform="translate(1821.7 136.2) scale(1 0.96)" font-size="41" letter-spacing="2.35" text-anchor="middle" font-weight="bold">*</text>
<path d="M2009.0 108.9V101.9H2105.3V108.9" stroke="#333" stroke-width="1.6" fill="none"/>
<text x="2057.3" y="95.5" font-size="24" text-anchor="middle"><tspan font-style="italic">p</tspan> = 0.078</text>
<text transform="translate(1625.1 511.9) scale(1 1.045)" font-size="27" text-anchor="middle">WT</text>
<text transform="translate(1693.3 511.9) scale(1 1.045)" font-size="27" text-anchor="middle">KO#2</text>
<text transform="translate(1785.4 511.9) scale(1 1.045)" font-size="27" text-anchor="middle">WT</text>
<text transform="translate(1854.4 511.9) scale(1 1.045)" font-size="27" text-anchor="middle">KO#2</text>
<text transform="translate(1932.5 511.9) scale(1 1.045)" font-size="27" text-anchor="middle">KO#7</text>
<text transform="translate(2022.8 511.9) scale(1 1.045)" font-size="27" text-anchor="middle">WT</text>
<text transform="translate(2089.0 511.9) scale(1 1.045)" font-size="27" text-anchor="middle">KO#2</text>
<path d="M1605.6 523.9H1708.6" stroke="#000" stroke-width="2"/>
<path d="M1765.0 523.9H1961.1" stroke="#000" stroke-width="2"/>
<path d="M2005.4 523.9H2110.0" stroke="#000" stroke-width="2"/>
<text transform="translate(1659.0 557.2) scale(1 1.045)" font-size="27" text-anchor="middle">Day 21</text>
<text transform="translate(1868.4 557.2) scale(1 1.045)" font-size="27" text-anchor="middle">Day 28</text>
<text transform="translate(2058.5 557.2) scale(1 1.045)" font-size="27" text-anchor="middle">Day 35</text>
</svg></body></html>
